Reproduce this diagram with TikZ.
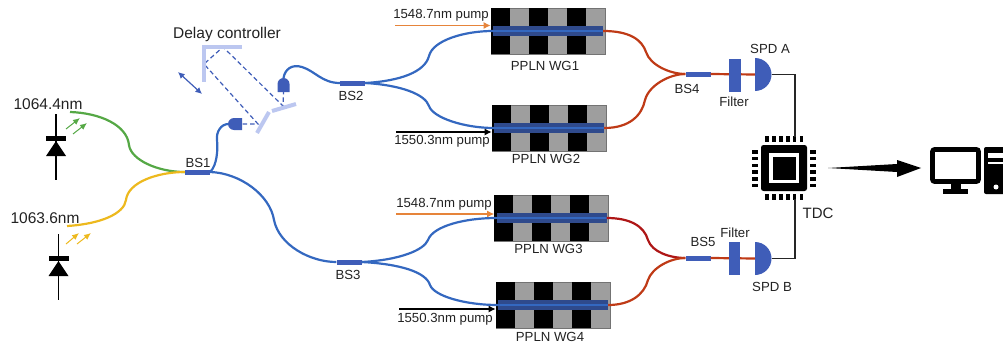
\documentclass[tikz,border=0pt]{standalone}
\usepackage{fontspec}
\setmainfont{Liberation Sans}
\usetikzlibrary{arrows.meta,positioning,calc}
\definecolor{bsblue}{HTML}{3F5DB8}
\definecolor{fibblue}{HTML}{3468C0}
\definecolor{barblue}{HTML}{2F4A8C}
\definecolor{mirrorblue}{HTML}{BCC7F0}
\definecolor{fibgreen}{HTML}{55A845}
\definecolor{fibyellow}{HTML}{EDB91E}
\definecolor{fibred}{HTML}{BF3A16}
\definecolor{fibdark}{HTML}{AE1616}
\definecolor{pumporange}{HTML}{E6843A}
\definecolor{txtgray}{HTML}{222222}

\begin{document}
\begin{tikzpicture}[
  x=1pt, y=-1pt,
  lab/.style={inner sep=0pt, text=txtgray, font=\fontsize{13.2}{14}\selectfont},
  biglab/.style={inner sep=0pt, text=txtgray, font=\fontsize{15.5}{17}\selectfont},
  bs/.style={fill=bsblue, minimum width=25pt, minimum height=5pt, inner sep=0pt},
  filt/.style={fill=bsblue, minimum width=11.5pt, minimum height=33pt, inner sep=0pt},
  ppln/.style={fill=black!38, draw=black!55, line width=0.7pt, minimum width=114pt, minimum height=46pt, inner sep=0pt},
  wgbar/.style={fill=barblue, minimum width=110pt, minimum height=9.5pt, inner sep=0pt},
  fib/.style={line width=2.2pt, fibblue},
  wire/.style={line width=1.4pt, black!85},
  pump/.style={-{Latex[length=7pt,width=7pt]}, line width=1.2pt},
  emit/.style={-{Latex[length=7pt,width=6pt]}, line width=1pt},
  diode/.style={line width=1.8pt},
  beam/.style={dash pattern=on 4.5pt off 3pt, line width=1.2pt, bsblue},
  mirror/.style={line width=4pt, mirrorblue}
]
\useasboundingbox (0,0) rectangle (1003,345);

% splitters
\node[bs] (bs1) at (197.5,172) {};
\node[bs] (bs2) at (352.5,83) {};
\node[bs] (bs3) at (349,262) {};
\node[bs] (bs4) at (698,74) {};
\node[bs] (bs5) at (698,258) {};
\node[lab] (bs1lab) at (198,163) {BS1};
\node[lab] (bs2lab) at (351,96) {BS2};
\node[lab] (bs3lab) at (348,275) {BS3};
\node[lab] (bs4lab) at (687,89) {BS4};
\node[lab] (bs5lab) at (703,242) {BS5};

% waveguides
\foreach \wgname/\wgx/\wgy/\wgnum/\laby in {wga/548/31/1/66, wgb/549/128/2/159, wgc/551.5/218/3/249, wgd/553/305/4/337}{
  \node[ppln] (\wgname) at (\wgx,\wgy) {};
  \foreach \k in {0,2,4}
    \fill ($(\wgname.north west)+(\k*19,0)$) rectangle ++(19,46);
  \node[wgbar] (\wgname bar) at (\wgname) {};
  \draw[fib, line width=1.8pt] (\wgname bar.west) -- (\wgname bar.east);
  \node[lab] (\wgname lab) at (\wgx-3,\laby) {PPLN WG\wgnum};
}

% pumps
\coordinate (pa) at (395,25.5);
\coordinate (pb) at (396,132);
\coordinate (pc) at (396,214);
\coordinate (pd) at (399,309);
\draw[pump, pumporange] (pa) -- (pa -| wga.west);
\draw[pump, black] (pb) -- (pb -| wgb.west);
\draw[pump, pumporange] (pc) -- (pc -| wgc.west);
\draw[pump, black] (pd) -- (pd -| wgd.west);
\node[lab] (palab) at (441,15) {1548.7nm pump};
\node[lab] (pblab) at (442,141) {1550.3nm pump};
\node[lab] (pclab) at (444,204) {1548.7nm pump};
\node[lab] (pdlab) at (445,319) {1550.3nm pump};

% sources
\coordinate (lda) at (56,114);
\coordinate (ldb) at (58.5,234);
\foreach \ld in {lda,ldb}{
  \draw[diode] (\ld) -- ++(0,66);
  \fill ($(\ld)+(-10,22)$) rectangle ++(20,4.5);
  \fill ($(\ld)+(0,27)$) -- ++(10,15) -- ++(-20,0) -- cycle;
}
\draw[emit, fibgreen] (66,129) -- (80,118);
\draw[emit, fibgreen] (73,134) -- (87,123);
\draw[emit, fibyellow] (66,244) -- (79,233);
\draw[emit, fibyellow] (77,244) -- (91,233);
\node[biglab] (ldalab) at (48,104) {1064.4nm};
\node[biglab] (ldblab) at (45,218) {1063.6nm};
\coordinate (gstart) at (70,112);
\coordinate (ystart) at (67,226);
\draw[fib, fibgreen] (gstart) .. controls (100,113) and (127,125) .. (129,145) .. controls (131,160) and (158,172) .. (bs1.west);
\draw[fib, fibyellow] (ystart) .. controls (100,224) and (124,214) .. (126,200) .. controls (128,182) and (158,172) .. (bs1.west);

% delay line
\node[biglab] (delaylab) at (227,34) {Delay controller};
\coordinate (colla) at (228.5,124);
\coordinate (collb) at (283.5,78);
\coordinate (ma) at (258,124);
\coordinate (mb) at (204,64);
\coordinate (mc) at (223,47);
\coordinate (md) at (283,106);
\fill[bsblue] (234,118) arc (90:270:6pt) -- (242,130) -- (242,118) -- cycle;
\fill[bsblue] (277.5,92) -- (277.5,84) arc (180:0:6pt) -- (289.5,92) -- cycle;
\draw[beam] ($(colla)+(14,0)$) -- (ma) -- (mb) -- (mc) -- (md) -- ($(collb)+(0,14)$);
\draw[mirror] (257,133) -- (269,112);
\draw[mirror] (272,111) -- (296,104);
\draw[mirror] (242,47) -- (204,47) -- (204,82);
\draw[{Latex[length=6.5pt,width=6.5pt]}-{Latex[length=6.5pt,width=6.5pt]}, line width=1.2pt, bsblue] (178,72) -- (202,94);

% fibres
\draw[fib] (bs1.east) .. controls (217,165) and (218,150) .. (217,140) .. controls (216,132) and (221,124) .. (colla);
\draw[fib] (collb) .. controls (285,69) and (292,64) .. (302,67) .. controls (315,71) and (322,83) .. (bs2.west);
\draw[fib] (bs1.east) .. controls (240,173) and (270,195) .. (274,220) .. controls (279,245) and (310,262) .. (bs3.west);
\draw[fib] (bs2.east) .. controls (400,81) and (425,72) .. (429,56) .. controls (433,40) and (465,31) .. (wgabar.west);
\draw[fib] (bs2.east) .. controls (400,85) and (425,94) .. (429,106) .. controls (433,118) and (465,128) .. (wgbbar.west);
\draw[fib] (bs3.east) .. controls (400,260) and (424,250) .. (428,240) .. controls (433,226) and (465,218) .. (wgcbar.west);
\draw[fib] (bs3.east) .. controls (400,264) and (426,272) .. (430,285) .. controls (434,296) and (465,305) .. (wgdbar.west);
\draw[fib, fibred] (wgabar.east) .. controls (630,31) and (642,40) .. (646,52) .. controls (650,65) and (670,74) .. (bs4.west);
\draw[fib, fibred] (wgbbar.east) .. controls (630,128) and (642,115) .. (645,100) .. controls (649,85) and (670,74) .. (bs4.west);
\draw[fib, fibdark] (wgcbar.east) .. controls (630,218) and (644,226) .. (648,240) .. controls (652,252) and (670,258) .. (bs5.west);
\draw[fib, fibred] (wgdbar.east) .. controls (630,305) and (644,295) .. (648,280) .. controls (652,268) and (670,258) .. (bs5.west);

% detectors
\coordinate (spda) at (755,74.5);
\coordinate (spdb) at (755,258.5);
\draw[fib, fibred] (bs4.east) -- (spda);
\draw[fib, fibred] (bs5.east) -- (spdb);
\node[filt] (filta) at (735,75.5) {};
\node[filt] (filtb) at (734.5,258) {};
\foreach \spd in {spda,spdb}
  \fill[bsblue] ($(\spd)+(0,-16.5)$) arc (90:-90:16.5pt) -- cycle;
\node[lab] (filtalab) at (734,102) {Filter};
\node[lab] (filtblab) at (735,233) {Filter};
\node[lab] (spdalab) at (770,49) {SPD A};
\node[lab] (spdblab) at (772,287) {SPD B};

% TDC chip
\node[fill=black, rounded corners=2.5pt, minimum size=46pt, inner sep=0pt] (chip) at (784,168) {};
\node[fill=white, minimum size=30pt, inner sep=0pt] (chipring) at (784,168) {};
\node[fill=black, minimum size=23pt, inner sep=0pt] (chipcore) at (784.5,168.5) {};
\foreach \k in {0,...,5}{
  \fill (765.2+\k*6.9,136) rectangle ++(3.6,5.5);
  \fill (765.2+\k*6.9,194) rectangle ++(3.6,5.5);
  \fill (752,150.3+\k*6.7) rectangle ++(6,3.4);
  \fill (809.5,150.3+\k*6.7) rectangle ++(6,3.4);
}
\node[biglab, font=\fontsize{15}{17}\selectfont] (tdclab) at (818,213) {TDC};
\coordinate (wa) at (771.5,74.5);
\coordinate (wb) at (771.5,258.5);
\coordinate (pina) at (795,137);
\coordinate (pinb) at (795,199);
\draw[wire] (wa) -| (pina);
\draw[wire] (wb) -| (pinb);

% computer
\node[draw=black, line width=4.6pt, rounded corners=2pt, fill=white, minimum width=46pt, minimum height=32pt, inner sep=0pt] (monitor) at (955.5,165.5) {};
\fill (951,184) rectangle (961,190);
\fill (943,189) rectangle (968,194);
\fill[rounded corners=2pt] (984,147) rectangle (1010,194);
\fill[white] (988,153) rectangle (1003,158);
\fill[white] (988,162) rectangle (1003,164);
\fill[white] (996,187) circle (2.5pt);

% output arrow
\coordinate (outtail) at (828,168);
\coordinate (outtip) at (921,168);
\fill (outtail) -- ($(outtip)+(-24,-4)$) -- ($(outtip)+(-24,-8)$) -- (outtip) -- ($(outtip)+(-24,9)$) -- ($(outtip)+(-24,4)$) -- cycle;
\end{tikzpicture}
\end{document}
